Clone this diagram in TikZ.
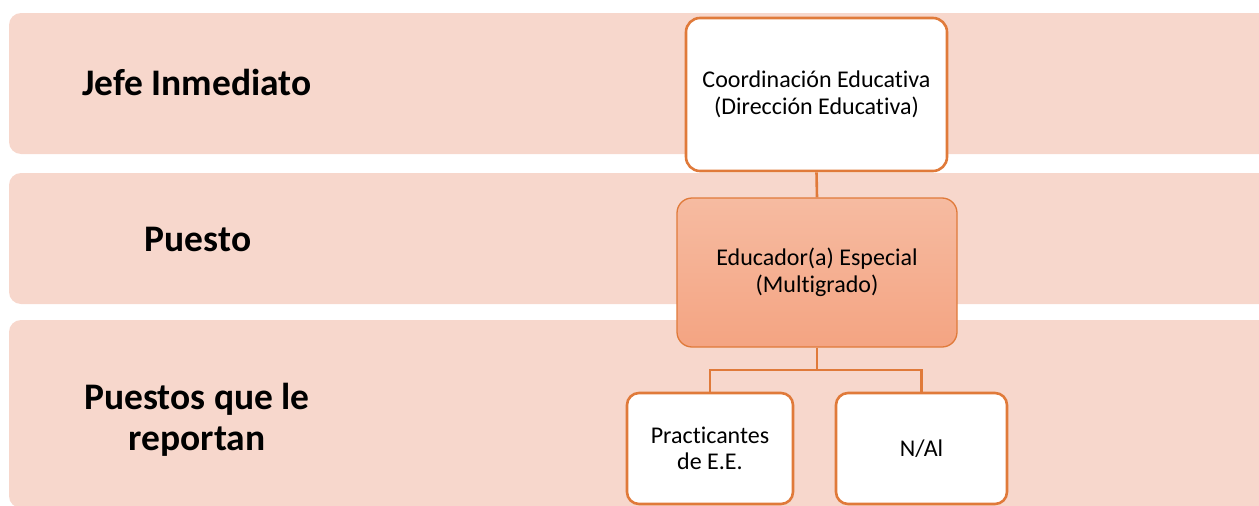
\documentclass[tikz,border=0pt]{standalone}
\usepackage{fontspec}
\setmainfont[Ligatures=NoCommon]{Carlito}
\definecolor{bandfill}{HTML}{F7D7CC}
\definecolor{orangeline}{HTML}{E07A3A}
\definecolor{edutop}{HTML}{F6BBA1}
\definecolor{edubot}{HTML}{F4A482}
\begin{document}
\begin{tikzpicture}[x=1pt,y=-1pt,
  band/.style={fill=bandfill, rounded corners=12pt},
  heading/.style={font=\fontsize{37.5}{40.5}\selectfont\bfseries, align=center, text=black},
  whitebox/.style={draw=orangeline, line width=2.6pt, fill=white, rounded corners=14pt,
    align=center, font=\fontsize{24}{26.5}\selectfont, inner sep=0pt},
  edubox/.style={draw=orangeline, line width=1.3pt, top color=edutop, bottom color=edubot,
    rounded corners=15pt, align=center, font=\fontsize{24}{26.5}\selectfont, inner sep=0pt},
  link/.style={draw=orangeline, line width=2.6pt}]
\useasboundingbox (0,0) rectangle (1259,506);
\begin{scope}
\clip (0,0) rectangle (1259,506);
\fill[band] (9,13) rectangle (1280,154);
\fill[band] (9,173) rectangle (1280,304);
\fill[band] (9,320) rectangle (1280,508);
\end{scope}
\node[heading] (h1) at (197,82) {Jefe Inmediato};
\node[heading] (h2) at (198,239) {Puesto};
\node[heading] (h3) at (197,420) {Puestos que le\\reportan};
\node[whitebox, minimum width=261pt, minimum height=153pt] (coord) at (816.5,94.5)
  {Coordinación Educativa\\(Dirección Educativa)};
\node[edubox, minimum width=280pt, minimum height=149pt] (edu) at (817,272.5)
  {Educador(a) Especial\\(Multigrado)};
\node[whitebox, rounded corners=12pt, minimum width=166pt, minimum height=111pt] (prac) at (710,448.5)
  {Practicantes\\de E.E.};
\node[whitebox, rounded corners=12pt, minimum width=171pt, minimum height=111pt] (nai) at (921.5,448.5)
  {N/Al};
\coordinate (j) at (817,370);
\draw[link] (coord.south) -- (edu.north);
\draw[link] (edu.south) -- (j);
\draw[link] (prac.north) |- (j) -| (nai.north);
\end{tikzpicture}
\end{document}
